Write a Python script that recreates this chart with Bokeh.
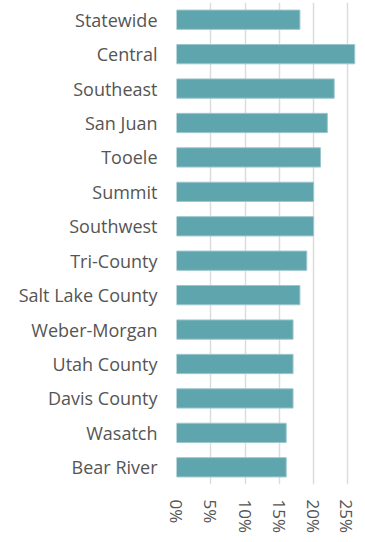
import math
from bokeh.plotting import figure
from bokeh.models import Range1d, FactorRange, NumeralTickFormatter, FixedTicker
from bokeh.embed import file_html
from bokeh.resources import INLINE

regions = ["Statewide", "Central", "Southeast", "San Juan", "Tooele", "Summit",
           "Southwest", "Tri-County", "Salt Lake County", "Weber-Morgan",
           "Utah County", "Davis County", "Wasatch", "Bear River"]
values = [0.18, 0.26, 0.23, 0.22, 0.21, 0.20, 0.20, 0.19, 0.18, 0.17, 0.17, 0.17, 0.16, 0.16]
ticks = [0, 0.05, 0.10, 0.15, 0.20, 0.25]

p = figure(width=357, height=535, y_range=FactorRange(*reversed(regions), range_padding=0),
           x_range=Range1d(0, 0.264), output_backend="svg", toolbar_location=None,
           min_border_left=176, min_border_right=0, min_border_top=2, min_border_bottom=0)
p.hbar(y=regions, right=values, left=0, height=0.56, fill_color="#5fa5ae",
       line_color="#9cc6cc", line_width=1)

p.outline_line_color = None
p.ygrid.grid_line_color = None
p.xgrid.grid_line_color = "#dcdcdc"
p.xgrid.grid_line_width = 1.5
p.xaxis.ticker = FixedTicker(ticks=ticks)
p.xaxis.formatter = NumeralTickFormatter(format="0%")
p.xaxis.major_label_orientation = -math.pi / 2
p.xaxis.major_label_text_font = "Open Sans"
p.xaxis.major_label_text_font_size = "17px"
p.xaxis.major_label_text_color = "#555555"
p.xaxis.major_label_standoff = 9
p.xaxis.axis_line_color = None
p.xaxis.major_tick_line_color = None
p.xaxis.minor_tick_line_color = None

p.yaxis.major_label_text_font = "Open Sans"
p.yaxis.major_label_text_font_size = "18px"
p.yaxis.major_label_text_color = "#555555"
p.yaxis.major_label_standoff = 19
p.yaxis.axis_line_color = None
p.yaxis.major_tick_line_color = None
p.yaxis.minor_tick_line_color = None
p.yaxis.major_tick_out = 0

open("out.html", "w").write(file_html(p, INLINE))
